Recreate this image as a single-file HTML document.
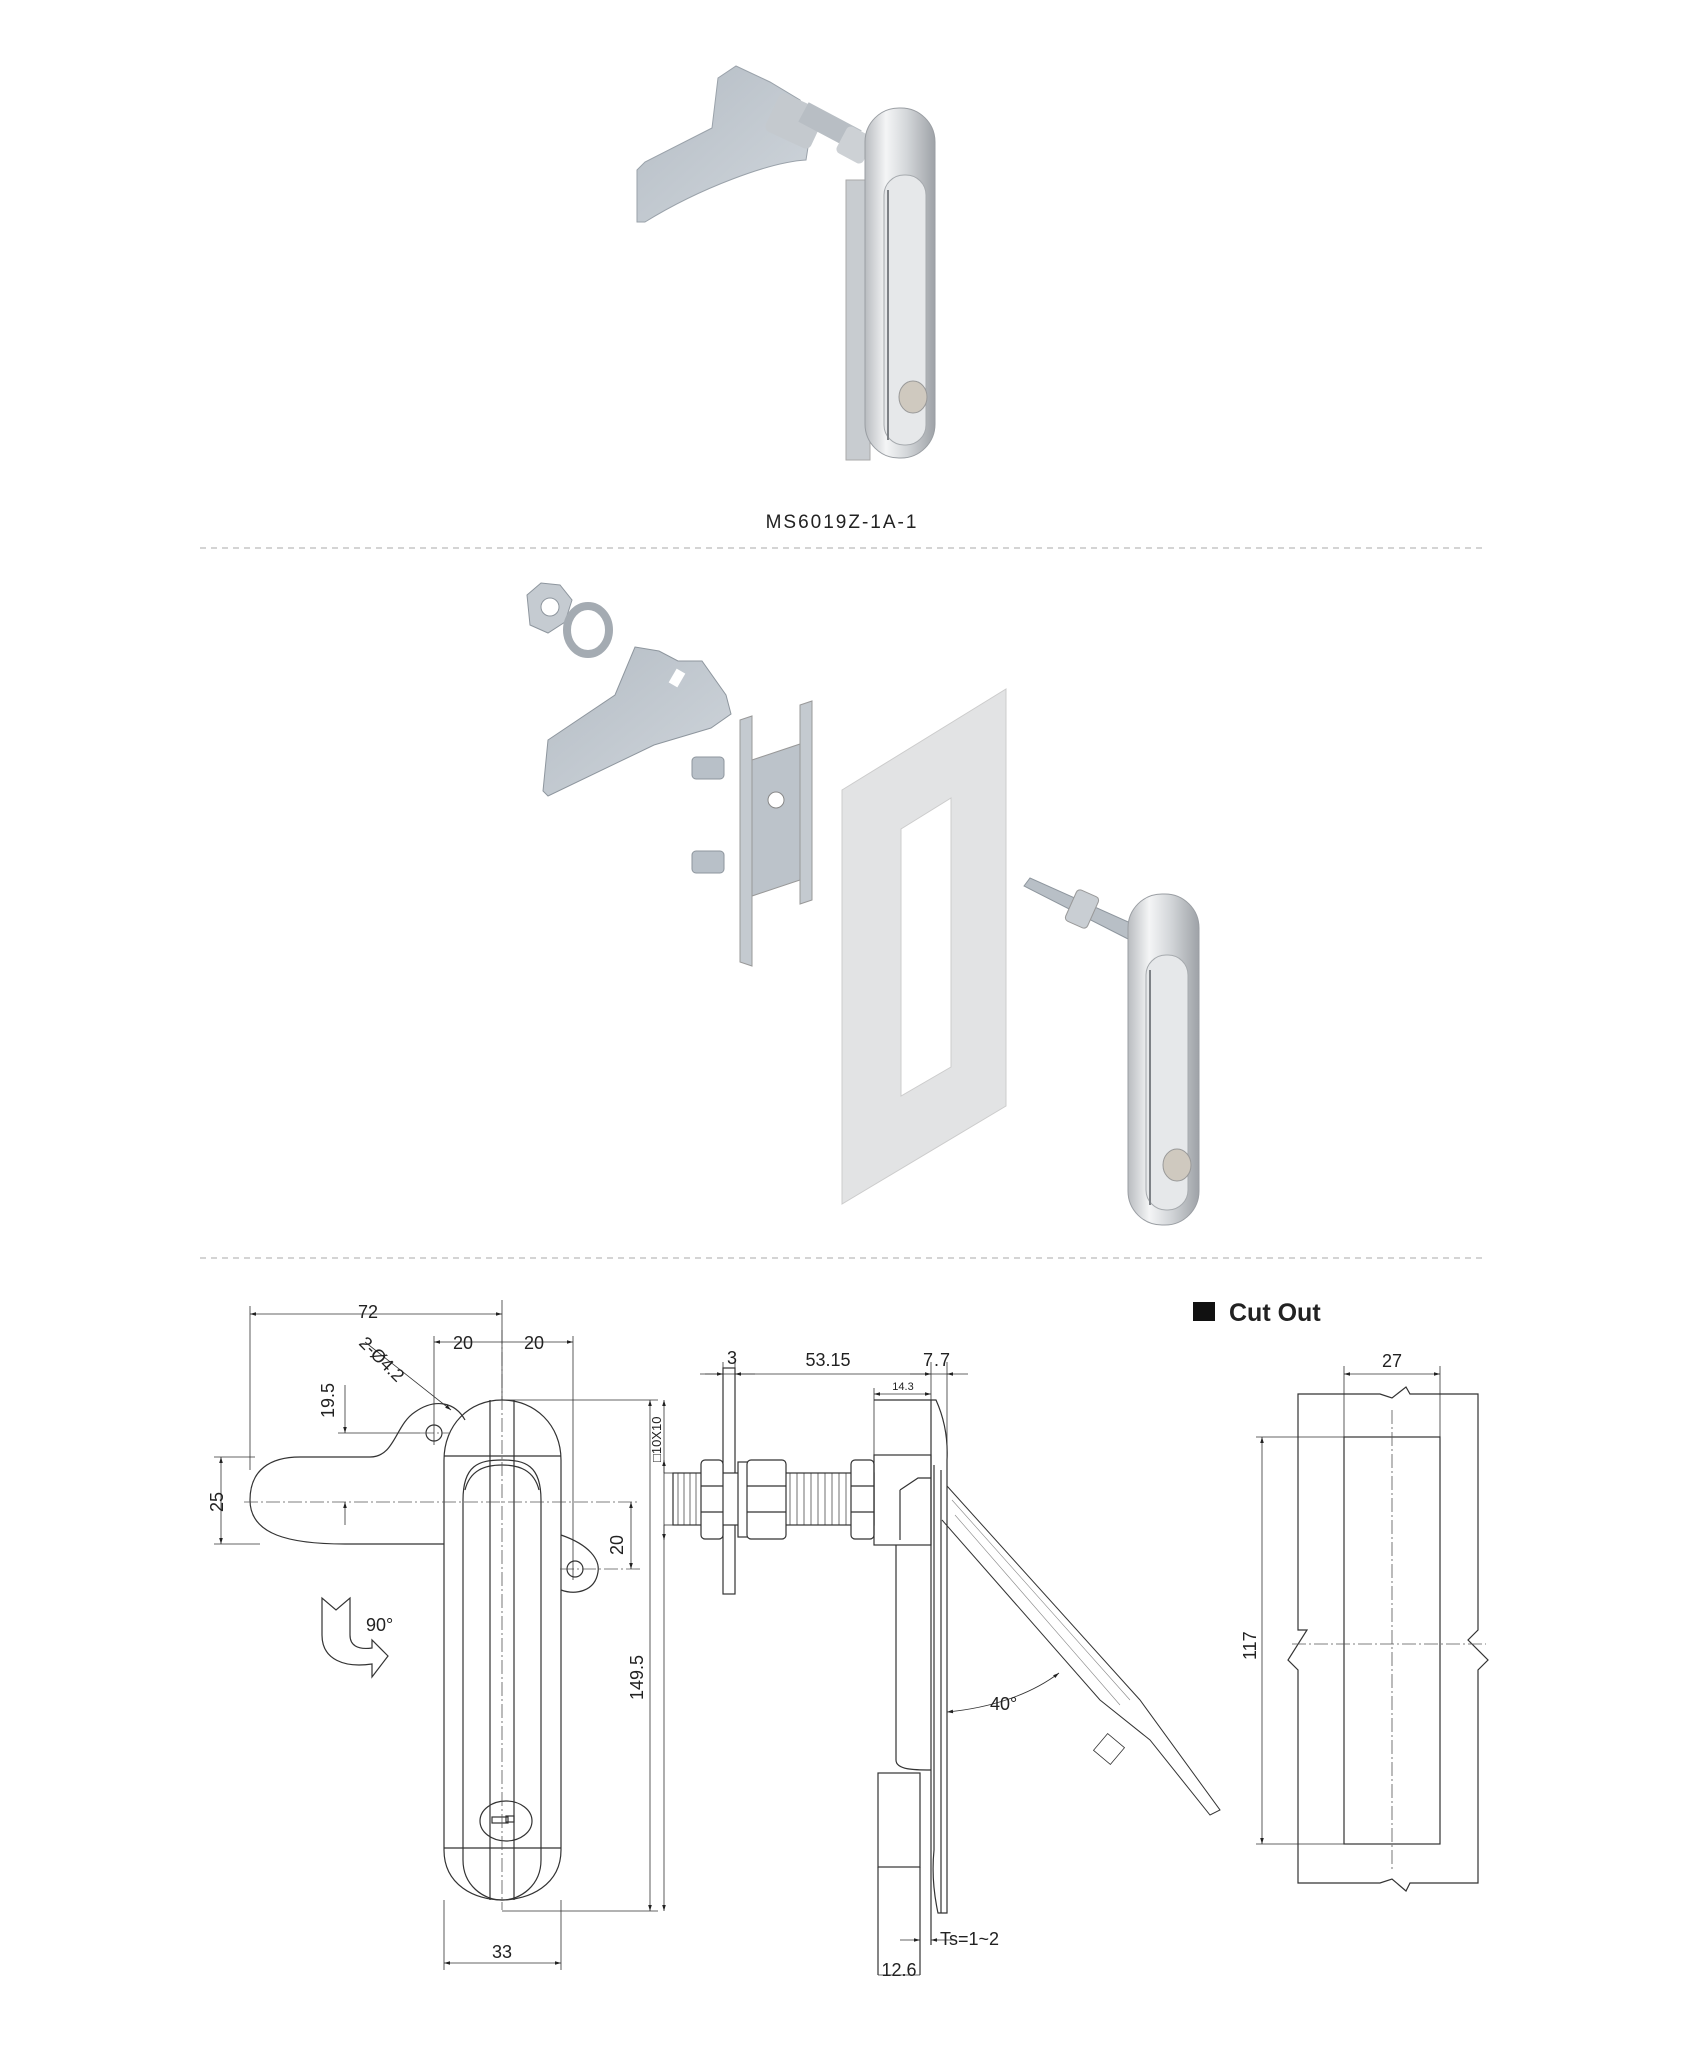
<!DOCTYPE html>
<html><head><meta charset="utf-8"><style>
html,body{margin:0;padding:0;background:#fff}
svg{display:block}
text{font-family:"Liberation Sans","DejaVu Sans",sans-serif;fill:#222}
</style></head><body>
<svg width="1683" height="2062" viewBox="0 0 1683 2062" xmlns="http://www.w3.org/2000/svg">
<defs>
<linearGradient id="chrome" x1="0" x2="1" y1="0" y2="0">
<stop offset="0" stop-color="#b9bcc0"/><stop offset="0.3" stop-color="#f4f5f6"/><stop offset="0.6" stop-color="#d3d6d9"/><stop offset="1" stop-color="#9ea2a7"/>
</linearGradient>
<linearGradient id="zinc" x1="0" x2="1" y1="0" y2="1">
<stop offset="0" stop-color="#b4bcc4"/><stop offset="1" stop-color="#d0d6dc"/>
</linearGradient>
<marker id="ar" viewBox="0 0 10 10" refX="10" refY="5" markerWidth="14" markerHeight="6" orient="auto-start-reverse" markerUnits="userSpaceOnUse"><path d="M0,2 L10,5 L0,8 z" fill="#222"/></marker>
</defs>

<!-- ===== Top product image ===== -->
<g>
<path d="M637,222 L637,170 L645,162 L712,128 L718,78 L736,66 L770,82 L800,100 L812,122 L806,160 C770,162 700,188 645,222 Z" fill="url(#zinc)" stroke="#9aa2aa"/>
<rect x="770" y="100" width="50" height="42" rx="6" fill="#c4c9ce" transform="rotate(25 795 121)"/>
<rect x="800" y="115" width="60" height="22" fill="#b8bec4" transform="rotate(28 830 126)"/>
<rect x="840" y="130" width="30" height="30" rx="5" fill="#cdd1d5" transform="rotate(28 855 145)"/>
<rect x="846" y="180" width="24" height="280" fill="#c8ccd0" stroke="#aaa"/>
<rect x="865" y="108" width="70" height="350" rx="34" fill="url(#chrome)" stroke="#9a9ea3"/>
<rect x="884" y="175" width="42" height="270" rx="20" fill="#e6e8ea" stroke="#a6aaae"/>
<line x1="888" y1="190" x2="888" y2="440" stroke="#7d8186" stroke-width="2"/>
<ellipse cx="913" cy="397" rx="14" ry="16" fill="#cfc9bf" stroke="#999"/>
</g>
<text x="842" y="528" font-size="19" text-anchor="middle" letter-spacing="2">MS6019Z-1A-1</text>
<line x1="200" y1="548" x2="1482" y2="548" stroke="#bbb" stroke-width="1.2" stroke-dasharray="6,5"/>

<!-- ===== Exploded view ===== -->
<g>
<polygon points="527,595 541,583 560,585 572,600 565,622 548,633 530,625" fill="#c5cbd1" stroke="#8e969e"/>
<circle cx="550" cy="607" r="9" fill="#fff" stroke="#8e969e"/>
<ellipse cx="588" cy="630" rx="21" ry="24" fill="none" stroke="#a4abb2" stroke-width="8"/>
<path d="M543,791 L548,740 L615,695 L635,647 L659,651 L678,661 L702,661 L726,695 L731,714 L711,728 L654,745 L548,796 Z" fill="url(#zinc)" stroke="#8e969e"/>
<rect x="672" y="670" width="10" height="16" fill="#fff" transform="rotate(30 677 678)"/>
<polygon points="740,720 752,716 752,966 740,962" fill="#c4cad0" stroke="#999"/>
<polygon points="800,705 812,701 812,900 800,904" fill="#c4cad0" stroke="#999"/>
<polygon points="752,760 800,744 800,880 752,896" fill="#bcc3ca" stroke="#999"/>
<circle cx="776" cy="800" r="8" fill="#fff" stroke="#888"/>
<rect x="692" y="757" width="32" height="22" rx="4" fill="#b8c0c8" stroke="#8e969e"/>
<rect x="692" y="851" width="32" height="22" rx="4" fill="#b8c0c8" stroke="#8e969e"/>
<path d="M842,790 L1006,689 L1006,1106 L842,1204 Z M901,829 L901,1096 L951,1067 L951,798 Z" fill="#e2e3e4" fill-rule="evenodd" stroke="#ccc"/>
<polygon points="1024,886 1030,878 1135,925 1130,940" fill="#b8bfc6" stroke="#8e969e"/>
<rect x="1070" y="892" width="24" height="34" rx="4" fill="#c9ced3" stroke="#999" transform="rotate(24 1082 909)"/>
<rect x="1128" y="894" width="71" height="331" rx="34" fill="url(#chrome)" stroke="#9a9ea3"/>
<rect x="1146" y="955" width="42" height="255" rx="20" fill="#e6e8ea" stroke="#a6aaae"/>
<line x1="1150" y1="970" x2="1150" y2="1205" stroke="#7d8186" stroke-width="2"/>
<ellipse cx="1177" cy="1165" rx="14" ry="16" fill="#cfc9bf" stroke="#999"/>
</g>
<line x1="200" y1="1258" x2="1482" y2="1258" stroke="#bbb" stroke-width="1.2" stroke-dasharray="6,5"/>

<!-- ===== Front view drawing ===== -->
<g fill="none" stroke="#333" stroke-width="1.2">
<path d="M444,1544 L345,1544 C290,1544 250,1535 250,1500 C250,1470 270,1457 300,1457 L370,1457 C395,1457 395,1425 415,1412 C435,1398 455,1402 465,1420"/>
<path d="M561,1535 C590,1545 600,1560 598,1572 C595,1592 575,1595 561,1590"/>
<circle cx="434" cy="1433" r="8"/>
<circle cx="575" cy="1569" r="8"/>
<path d="M444,1460 L444,1850 C444,1885 475,1900 502,1900 C529,1900 561,1885 561,1850 L561,1460 C561,1425 535,1400 502,1400 C469,1400 444,1425 444,1460 Z"/>
<line x1="444" y1="1456" x2="561" y2="1456"/>
<line x1="444" y1="1848" x2="561" y2="1848"/>
<path d="M463,1500 L463,1860 C463,1885 483,1900 502,1900 C521,1900 541,1885 541,1860 L541,1500 C541,1465 525,1460 502,1460 C479,1460 463,1465 463,1500 Z"/>
<path d="M465,1490 C470,1470 485,1465 502,1465 C519,1465 534,1470 539,1490"/>
<line x1="490" y1="1400" x2="490" y2="1900"/>
<line x1="514" y1="1400" x2="514" y2="1900"/>
<ellipse cx="506" cy="1821" rx="26" ry="20"/>
<rect x="492" y="1817" width="16" height="6"/>
<rect x="506" y="1816" width="8" height="6"/>
<path d="M322,1598 L322,1635 C322,1660 345,1668 372,1664 L372,1677 L388,1656 L372,1640 L372,1648 C357,1650 350,1645 350,1635 L350,1598 L336,1610 Z"/>
</g>
<g stroke="#555" stroke-width="0.8" fill="none" stroke-dasharray="14,3,2,3">
<line x1="244" y1="1502" x2="640" y2="1502"/>
<line x1="502" y1="1330" x2="502" y2="1910"/>
<line x1="420" y1="1433" x2="450" y2="1433"/>
<line x1="560" y1="1569" x2="640" y2="1569"/>
</g>
<g stroke="#333" stroke-width="0.8" fill="none">
<line x1="250" y1="1314" x2="502" y2="1314" marker-start="url(#ar)" marker-end="url(#ar)"/>
<line x1="250" y1="1306" x2="250" y2="1470"/>
<line x1="502" y1="1300" x2="502" y2="1400"/>
<line x1="434" y1="1342" x2="573" y2="1342" marker-start="url(#ar)" marker-end="url(#ar)"/>
<line x1="434" y1="1336" x2="434" y2="1445"/>
<line x1="573" y1="1336" x2="573" y2="1580"/>
<line x1="221" y1="1457" x2="221" y2="1544" marker-start="url(#ar)" marker-end="url(#ar)"/>
<line x1="214" y1="1457" x2="255" y2="1457"/>
<line x1="214" y1="1544" x2="260" y2="1544"/>
<line x1="345" y1="1385" x2="345" y2="1433" marker-end="url(#ar)"/>
<line x1="345" y1="1502" x2="345" y2="1525" marker-start="url(#ar)"/>
<line x1="338" y1="1433" x2="420" y2="1433"/>
<line x1="631" y1="1502" x2="631" y2="1569" marker-start="url(#ar)" marker-end="url(#ar)"/>
<line x1="365" y1="1342" x2="451" y2="1410" marker-end="url(#ar)"/>
<line x1="650" y1="1400" x2="650" y2="1911" marker-start="url(#ar)" marker-end="url(#ar)"/>
<line x1="502" y1="1400" x2="658" y2="1400"/>
<line x1="502" y1="1911" x2="658" y2="1911"/>
<line x1="444" y1="1963" x2="561" y2="1963" marker-start="url(#ar)" marker-end="url(#ar)"/>
<line x1="444" y1="1900" x2="444" y2="1970"/>
<line x1="561" y1="1900" x2="561" y2="1970"/>
</g>
<g font-size="18">
<text x="368" y="1318" text-anchor="middle">72</text>
<text x="463" y="1349" text-anchor="middle">20</text>
<text x="534" y="1349" text-anchor="middle">20</text>
<text x="358" y="1344" transform="rotate(45 358 1344)">2-Ø4.2</text>
<text x="334" y="1418" transform="rotate(-90 334 1418)">19.5</text>
<text x="223" y="1512" transform="rotate(-90 223 1512)">25</text>
<text x="623" y="1555" transform="rotate(-90 623 1555)">20</text>
<text x="366" y="1631">90°</text>
<text x="643" y="1700" transform="rotate(-90 643 1700)">149.5</text>
<text x="502" y="1958" text-anchor="middle">33</text>
</g>

<!-- ===== Side view ===== -->
<g fill="none" stroke="#333" stroke-width="1.2">
<rect x="723" y="1368" width="12" height="226"/>
<rect x="673" y="1473" width="201" height="52" fill="#fff"/>
<g stroke-width="0.7">
<path d="M678,1473 l0,52 M684,1473 l0,52 M690,1473 l0,52 M696,1473 l0,52 M790,1473 l0,52 M797,1473 l0,52 M804,1473 l0,52 M811,1473 l0,52 M818,1473 l0,52 M825,1473 l0,52 M832,1473 l0,52 M839,1473 l0,52 M846,1473 l0,52"/>
</g>
<rect x="701" y="1460" width="22" height="79" rx="4" fill="#fff"/>
<line x1="701" y1="1486" x2="723" y2="1486"/><line x1="701" y1="1512" x2="723" y2="1512"/>
<rect x="738" y="1462" width="16" height="75" fill="#fff"/>
<rect x="756" y="1462" width="8" height="75"/>
<rect x="747" y="1460" width="39" height="79" rx="4" fill="#fff"/>
<line x1="747" y1="1486" x2="786" y2="1486"/><line x1="747" y1="1512" x2="786" y2="1512"/>
<rect x="851" y="1460" width="23" height="79" rx="4" fill="#fff"/>
<line x1="851" y1="1486" x2="874" y2="1486"/><line x1="851" y1="1512" x2="874" y2="1512"/>
<rect x="874" y="1455" width="57" height="90"/>
<path d="M896,1545 L896,1760 C896,1770 915,1770 931,1770"/>
<path d="M900,1490 L918,1478 L931,1478 M900,1490 L900,1540"/>
<rect x="878" y="1773" width="42" height="94"/>
<line x1="878" y1="1867" x2="878" y2="1975"/>
<line x1="920" y1="1867" x2="920" y2="1975"/>
<line x1="931" y1="1400" x2="931" y2="1945"/>
<path d="M874,1400 L936,1400 C945,1420 948,1440 947,1460 L947,1913 L938,1913 C933,1890 932,1870 934,1850 L934,1465"/>
<line x1="941" y1="1470" x2="941" y2="1913"/>
<path d="M947,1486 L1140,1700 L1220,1810 L1210,1815 L1150,1740 L1100,1700 L942,1520" stroke-width="1"/>
<path d="M952,1500 L1130,1700 M955,1515 L1120,1705" stroke="#888" stroke-width="0.6"/>
<rect x="1098" y="1738" width="22" height="22" transform="rotate(40 1109 1749)" stroke-width="0.8"/>
</g>
<g stroke="#333" stroke-width="0.8" fill="none">
<line x1="700" y1="1374" x2="950" y2="1374"/>
<line x1="705" y1="1374" x2="723" y2="1374" marker-end="url(#ar)"/>
<line x1="755" y1="1374" x2="735" y2="1374" marker-end="url(#ar)"/>
<line x1="910" y1="1374" x2="931" y2="1374" marker-end="url(#ar)"/>
<line x1="968" y1="1374" x2="947" y2="1374" marker-end="url(#ar)"/>
<line x1="723" y1="1362" x2="723" y2="1368"/>
<line x1="735" y1="1362" x2="735" y2="1368"/>
<line x1="931" y1="1362" x2="931" y2="1400"/>
<line x1="947" y1="1362" x2="947" y2="1460"/>
<line x1="874" y1="1394" x2="931" y2="1394" marker-start="url(#ar)" marker-end="url(#ar)"/>
<line x1="874" y1="1388" x2="874" y2="1455"/>
<line x1="664" y1="1400" x2="664" y2="1911" marker-start="url(#ar)" marker-end="url(#ar)"/>
<line x1="664" y1="1473" x2="664" y2="1460" marker-end="url(#ar)"/>
<line x1="664" y1="1525" x2="664" y2="1540" marker-end="url(#ar)"/>
<line x1="664" y1="1473" x2="673" y2="1473"/>
<line x1="664" y1="1525" x2="673" y2="1525"/>
<line x1="900" y1="1940" x2="920" y2="1940" marker-end="url(#ar)"/>
<line x1="955" y1="1940" x2="931" y2="1940" marker-end="url(#ar)"/>
<line x1="878" y1="1975" x2="920" y2="1975"/>
<path d="M947,1712 C990,1708 1030,1695 1059,1673" marker-start="url(#ar)" marker-end="url(#ar)"/>
</g>
<g font-size="18">
<text x="732" y="1364" text-anchor="middle">3</text>
<text x="828" y="1366" text-anchor="middle">53.15</text>
<text x="937" y="1366" text-anchor="middle" letter-spacing="1">7.7</text>
<text x="903" y="1390" text-anchor="middle" font-size="11">14.3</text>
<text x="661" y="1462" transform="rotate(-90 661 1462)" font-size="13">□10X10</text>
<text x="990" y="1710">40°</text>
<text x="940" y="1945">Ts=1~2</text>
<text x="899" y="1976" text-anchor="middle">12.6</text>
</g>

<!-- ===== Cut Out ===== -->
<rect x="1193" y="1302" width="22" height="19" fill="#111"/>
<text x="1229" y="1321" font-size="25" font-weight="bold" fill="#222">Cut Out</text>
<g fill="none" stroke="#333" stroke-width="1.2">
<path d="M1298,1394 L1380,1394 L1392,1398 L1406,1387 L1410,1394 L1478,1394 L1478,1630 L1468,1640 L1488,1660 L1478,1670 L1478,1883 L1410,1883 L1406,1891 L1392,1879 L1380,1883 L1298,1883 L1298,1670 L1288,1660 L1307,1630 L1298,1630 Z"/>
<rect x="1344" y="1437" width="96" height="407"/>
</g>
<g stroke="#555" stroke-width="0.8" fill="none" stroke-dasharray="14,3,2,3">
<line x1="1392" y1="1410" x2="1392" y2="1870"/>
<line x1="1292" y1="1644" x2="1486" y2="1644"/>
</g>
<g stroke="#333" stroke-width="0.8" fill="none">
<line x1="1344" y1="1374" x2="1440" y2="1374" marker-start="url(#ar)" marker-end="url(#ar)"/>
<line x1="1344" y1="1366" x2="1344" y2="1437"/>
<line x1="1440" y1="1366" x2="1440" y2="1437"/>
<line x1="1262" y1="1437" x2="1262" y2="1844" marker-start="url(#ar)" marker-end="url(#ar)"/>
<line x1="1256" y1="1437" x2="1344" y2="1437"/>
<line x1="1256" y1="1844" x2="1344" y2="1844"/>
</g>
<text x="1392" y="1367" font-size="18" text-anchor="middle">27</text>
<text x="1256" y="1660" font-size="18" transform="rotate(-90 1256 1660)">117</text>
</svg>
</body></html>
